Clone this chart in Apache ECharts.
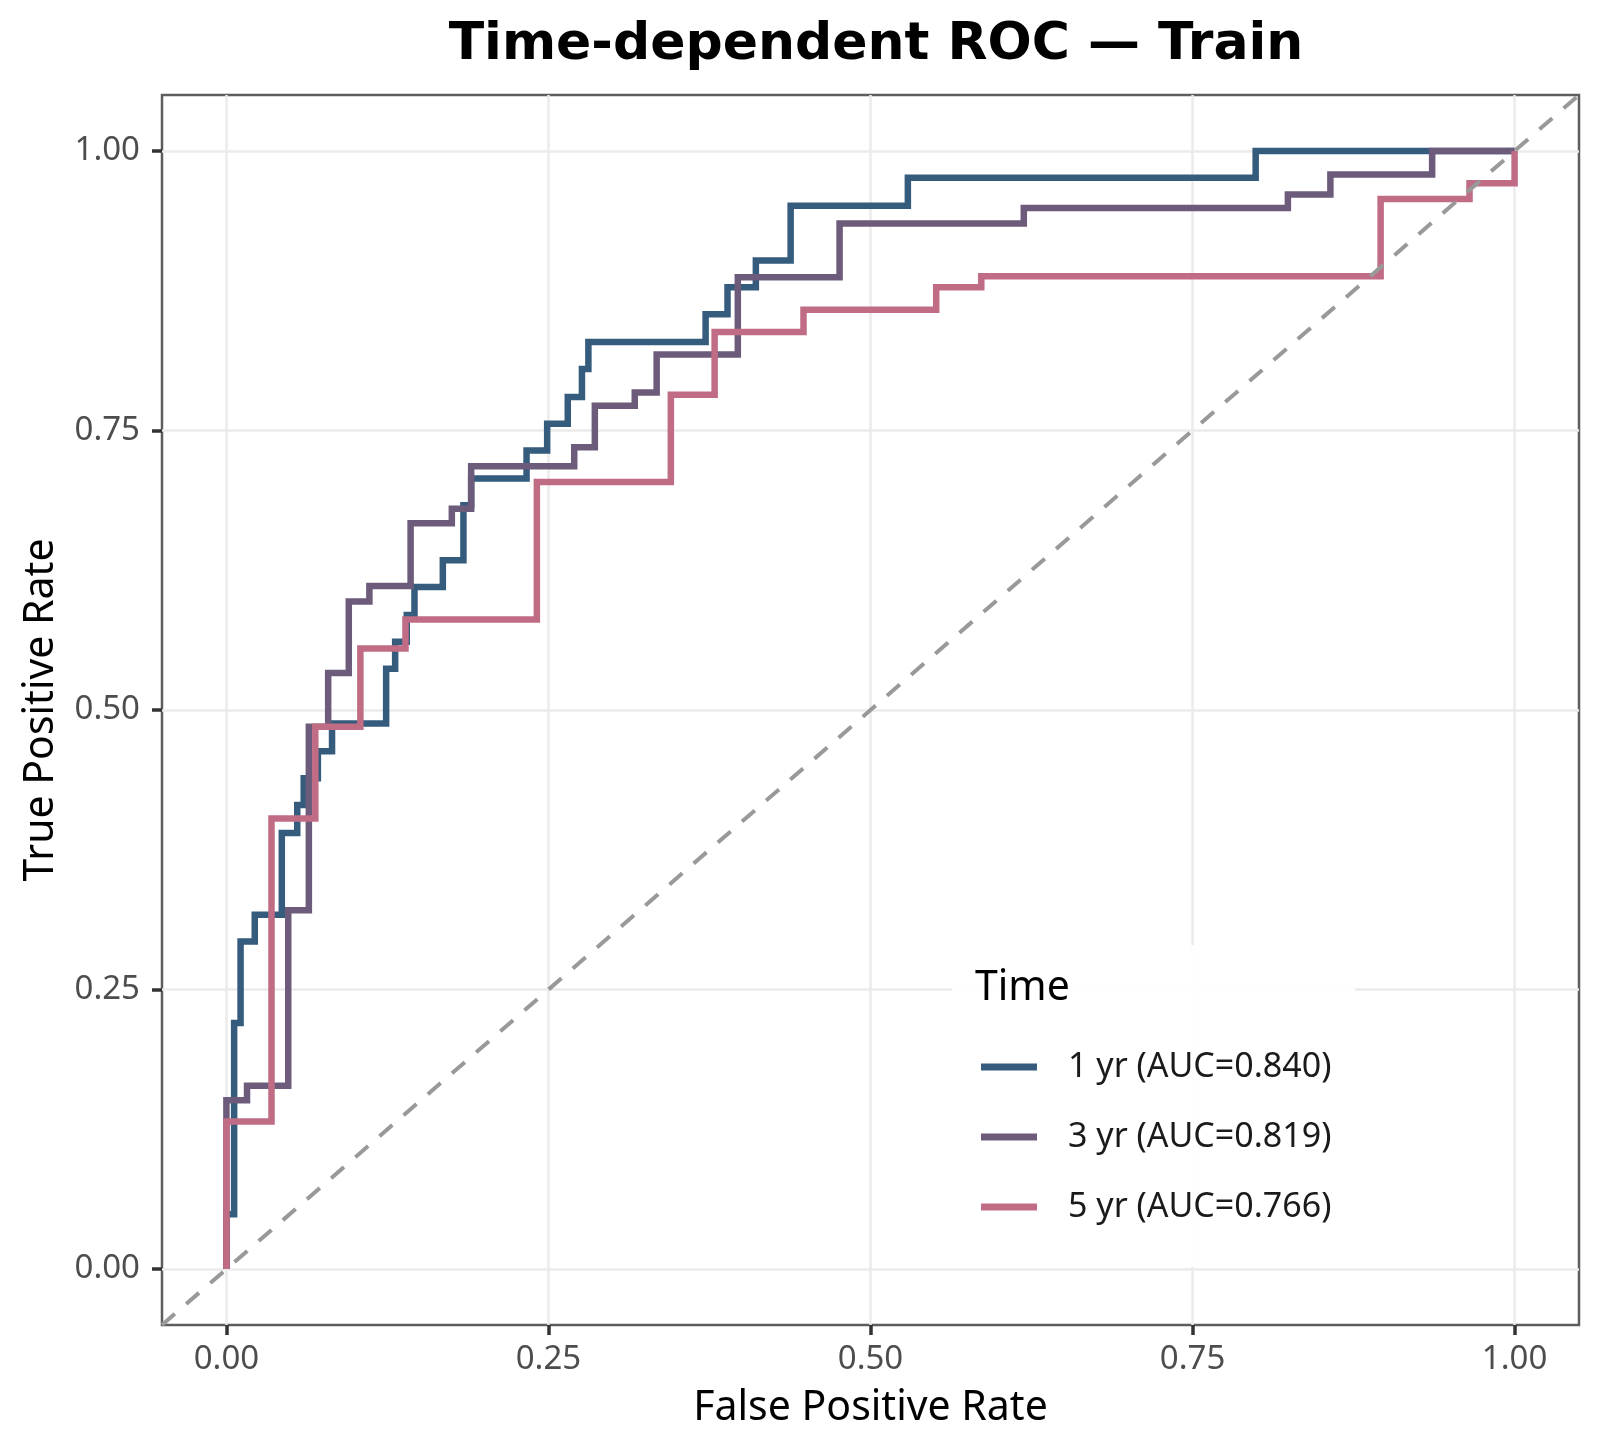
<!DOCTYPE html>
<html>
<head>
<meta charset="utf-8">
<title>Time-dependent ROC - Train</title>
<script src="https://cdn.jsdelivr.net/npm/echarts@6/dist/echarts.min.js"></script>
<style>
  html, body { margin: 0; padding: 0; background: #fff; }
  #chart { width: 1600px; height: 1455px; }
</style>
</head>
<body>
<div id="chart"></div>
<script>
// axis ticks
var tickValues = [0, 0.25, 0.5, 0.75, 1];
var tickLabels = ['0.00', '0.25', '0.50', '0.75', '1.00'];

// series names + colours
var seriesNames = ['1 yr (AUC=0.840)', '3 yr (AUC=0.819)', '5 yr (AUC=0.766)'];
var seriesColors = ['#355C7D', '#6C5B7B', '#C06C84'];

// step positions: FPR where the curve jumps, TPR after the jump
var fpr1 = [0, 0.006, 0.011, 0.022, 0.043, 0.055, 0.060, 0.071, 0.082, 0.124, 0.131, 0.140, 0.146,
            0.168, 0.184, 0.190, 0.233, 0.249, 0.265, 0.276, 0.281, 0.372, 0.389, 0.411, 0.438, 0.529, 0.799];
var tpr1 = [0.049, 0.220, 0.293, 0.317, 0.390, 0.415, 0.439, 0.463, 0.488, 0.537, 0.561, 0.585, 0.610,
            0.634, 0.683, 0.707, 0.732, 0.756, 0.780, 0.805, 0.829, 0.854, 0.878, 0.902, 0.951, 0.976, 1.000];

var fpr3 = [0, 0.016, 0.048, 0.064, 0.079, 0.095, 0.111, 0.143, 0.175, 0.190, 0.270, 0.286, 0.317,
            0.334, 0.397, 0.476, 0.619, 0.824, 0.857, 0.936];
var tpr3 = [0.151, 0.164, 0.321, 0.485, 0.533, 0.597, 0.611, 0.667, 0.680, 0.718, 0.735, 0.772, 0.784,
            0.818, 0.887, 0.935, 0.949, 0.961, 0.979, 1.000];

var fpr5 = [0, 0.035, 0.069, 0.104, 0.139, 0.241, 0.345, 0.379, 0.448, 0.551, 0.586, 0.896, 0.965, 1.0];
var tpr5 = [0.132, 0.403, 0.485, 0.555, 0.581, 0.704, 0.782, 0.838, 0.858, 0.878, 0.888, 0.957, 0.971, 1.000];

// reference diagonal, spans the whole panel
var diagX = [-0.05, 1.05];
var diagY = [-0.05, 1.05];

function staircase(xs, ys) {
    var pts = [[0, 0]];
    var prev = 0;
    for (var i = 0; i < xs.length; i++) {
        pts.push([xs[i], prev]);
        pts.push([xs[i], ys[i]]);
        prev = ys[i];
    }
    pts.push([1, prev]);
    return pts;
}

var curves = [staircase(fpr1, tpr1), staircase(fpr3, tpr3), staircase(fpr5, tpr5)];

var chart = echarts.init(document.getElementById('chart'));

var gridLines = [];
tickValues.forEach(function (v) {
    gridLines.push({ xAxis: v });
    gridLines.push({ yAxis: v });
});

var series = [{
    // gridlines only
    type: 'line',
    data: [],
    z: 1,
    silent: true,
    markLine: {
        silent: true,
        z: 1,
        symbol: 'none',
        label: { show: false },
        lineStyle: { color: '#ebebeb', width: 2.5, type: 'solid' },
        emphasis: { disabled: true },
        animation: false,
        data: gridLines
    }
}];

curves.forEach(function (pts, i) {
    series.push({
        name: seriesNames[i],
        type: 'line',
        data: pts,
        showSymbol: false,
        z: 2,
        clip: false,
        lineStyle: { color: seriesColors[i], width: 6.5, cap: 'butt', join: 'miter' },
        itemStyle: { color: seriesColors[i] },
        emphasis: { disabled: true },
        animation: false
    });
});

series.push({
    type: 'line',
    data: [[diagX[0], diagY[0]], [diagX[1], diagY[1]]],
    showSymbol: false,
    z: 3,
    lineStyle: { color: '#999999', width: 4, type: [17, 15] },
    emphasis: { disabled: true },
    animation: false
});

var axisTickStyle = { show: true, inside: false, length: 10, customValues: tickValues, lineStyle: { color: '#333', width: 3.5 } };

var option = {
    backgroundColor: '#ffffff',
    animation: false,
    title: {
        text: 'Time-dependent ROC \u2014 Train',
        left: 871,
        top: 14,
        textAlign: 'center',
        textStyle: { fontFamily: 'DejaVu Sans', fontWeight: 'bold', fontSize: 52, color: '#000' }
    },
    grid: {
        left: 162, top: 95, width: 1417, height: 1230,
        show: true,
        borderColor: '#5e5e5e',
        borderWidth: 2.5,
        backgroundColor: '#fff'
    },
    xAxis: {
        type: 'value',
        min: -0.05,
        max: 1.05,
        name: 'False Positive Rate',
        nameLocation: 'middle',
        nameGap: 63,
        nameTextStyle: { fontFamily: 'Noto Sans', fontSize: 41, color: '#000' },
        axisLine: { show: false, onZero: false },
        splitLine: { show: false },
        axisTick: axisTickStyle,
        axisLabel: {
            customValues: tickValues,
            margin: 18,
            fontFamily: 'Noto Sans', fontSize: 33, color: '#4d4d4d',
            formatter: function (v) { return tickLabels[tickValues.indexOf(v)] || v.toFixed(2); }
        }
    },
    yAxis: {
        type: 'value',
        min: -0.05,
        max: 1.05,
        name: 'True Positive Rate',
        nameLocation: 'middle',
        nameGap: 100,
        nameTextStyle: { fontFamily: 'Noto Sans', fontSize: 41, color: '#000' },
        axisLine: { show: false, onZero: false },
        splitLine: { show: false },
        axisTick: axisTickStyle,
        axisLabel: {
            customValues: tickValues,
            margin: 22,
            fontFamily: 'Noto Sans', fontSize: 33, color: '#4d4d4d',
            formatter: function (v) { return tickLabels[tickValues.indexOf(v)] || v.toFixed(2); }
        }
    },
    legend: {
        data: seriesNames,
        orient: 'vertical',
        left: 981,
        top: 1047,
        padding: 0,
        itemWidth: 56,
        itemHeight: 7,
        itemGap: 30,
        icon: 'rect',
        selectedMode: false,
        z: 10,
        textStyle: {
            fontFamily: 'Noto Sans', fontSize: 34, color: '#1a1a1a',
            lineHeight: 40, padding: [0, 0, 0, 26]
        }
    },
    graphic: [
        {
            type: 'rect',
            z: 5,
            silent: true,
            shape: { x: 952, y: 945, width: 403, height: 322 },
            style: { fill: 'rgba(255,255,255,0.93)' }
        },
        {
            type: 'text',
            z: 6,
            silent: true,
            x: 975,
            y: 988,
            style: {
                text: 'Time',
                font: '41px "Noto Sans"',
                fill: '#000',
                textAlign: 'left',
                textVerticalAlign: 'middle'
            }
        }
    ],
    series: series
};

chart.setOption(option);
</script>
</body>
</html>
